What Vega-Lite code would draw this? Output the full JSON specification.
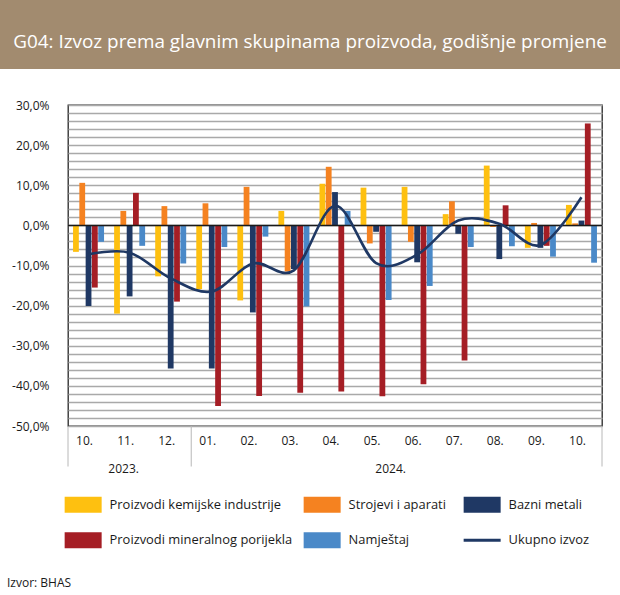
{
  "$schema": "https://vega.github.io/schema/vega-lite/v6.json",
  "background": "white",
  "padding": {"left": 0, "top": 0, "right": 0, "bottom": 6},
  "autosize": {"type": "pad"},
  "spacing": 29,
  "config": {"font": "Open Sans", "legend": {"labelFont": "Open Sans"}},
  "title": {"text": "Izvor: BHAS", "orient": "bottom", "anchor": "start", "fontSize": 12, "fontWeight": "normal", "color": "#1a1a1a", "offset": 29, "dx": 7},
  "datasets": {
    "bars": [
      {"m": "2023-10", "s": "Proizvodi kemijske industrije", "v": -6.6},
      {"m": "2023-10", "s": "Strojevi i aparati", "v": 10.6},
      {"m": "2023-10", "s": "Bazni metali", "v": -20.1},
      {"m": "2023-10", "s": "Proizvodi mineralnog porijekla", "v": -15.5},
      {"m": "2023-10", "s": "Namještaj", "v": -4.1},
      {"m": "2023-11", "s": "Proizvodi kemijske industrije", "v": -22.0},
      {"m": "2023-11", "s": "Strojevi i aparati", "v": 3.6},
      {"m": "2023-11", "s": "Bazni metali", "v": -17.7},
      {"m": "2023-11", "s": "Proizvodi mineralnog porijekla", "v": 8.1},
      {"m": "2023-11", "s": "Namještaj", "v": -5.1},
      {"m": "2023-12", "s": "Proizvodi kemijske industrije", "v": -12.7},
      {"m": "2023-12", "s": "Strojevi i aparati", "v": 4.8},
      {"m": "2023-12", "s": "Bazni metali", "v": -35.7},
      {"m": "2023-12", "s": "Proizvodi mineralnog porijekla", "v": -19.0},
      {"m": "2023-12", "s": "Namještaj", "v": -9.5},
      {"m": "2024-01", "s": "Proizvodi kemijske industrije", "v": -15.9},
      {"m": "2024-01", "s": "Strojevi i aparati", "v": 5.5},
      {"m": "2024-01", "s": "Bazni metali", "v": -35.7},
      {"m": "2024-01", "s": "Proizvodi mineralnog porijekla", "v": -45.0},
      {"m": "2024-01", "s": "Namještaj", "v": -5.4},
      {"m": "2024-02", "s": "Proizvodi kemijske industrije", "v": -18.7},
      {"m": "2024-02", "s": "Strojevi i aparati", "v": 9.6},
      {"m": "2024-02", "s": "Bazni metali", "v": -21.7},
      {"m": "2024-02", "s": "Proizvodi mineralnog porijekla", "v": -42.5},
      {"m": "2024-02", "s": "Namještaj", "v": -2.8},
      {"m": "2024-03", "s": "Proizvodi kemijske industrije", "v": 3.6},
      {"m": "2024-03", "s": "Strojevi i aparati", "v": -11.5},
      {"m": "2024-03", "s": "Bazni metali", "v": -10.9},
      {"m": "2024-03", "s": "Proizvodi mineralnog porijekla", "v": -41.7},
      {"m": "2024-03", "s": "Namještaj", "v": -20.2},
      {"m": "2024-04", "s": "Proizvodi kemijske industrije", "v": 10.4},
      {"m": "2024-04", "s": "Strojevi i aparati", "v": 14.6},
      {"m": "2024-04", "s": "Bazni metali", "v": 8.3},
      {"m": "2024-04", "s": "Proizvodi mineralnog porijekla", "v": -41.4},
      {"m": "2024-04", "s": "Namještaj", "v": 3.6},
      {"m": "2024-05", "s": "Proizvodi kemijske industrije", "v": 9.4},
      {"m": "2024-05", "s": "Strojevi i aparati", "v": -4.5},
      {"m": "2024-05", "s": "Bazni metali", "v": -1.6},
      {"m": "2024-05", "s": "Proizvodi mineralnog porijekla", "v": -42.6},
      {"m": "2024-05", "s": "Namještaj", "v": -18.6},
      {"m": "2024-06", "s": "Proizvodi kemijske industrije", "v": 9.6},
      {"m": "2024-06", "s": "Strojevi i aparati", "v": -4.1},
      {"m": "2024-06", "s": "Bazni metali", "v": -9.2},
      {"m": "2024-06", "s": "Proizvodi mineralnog porijekla", "v": -39.6},
      {"m": "2024-06", "s": "Namještaj", "v": -15.1},
      {"m": "2024-07", "s": "Proizvodi kemijske industrije", "v": 2.8},
      {"m": "2024-07", "s": "Strojevi i aparati", "v": 6.0},
      {"m": "2024-07", "s": "Bazni metali", "v": -2.1},
      {"m": "2024-07", "s": "Proizvodi mineralnog porijekla", "v": -33.7},
      {"m": "2024-07", "s": "Namještaj", "v": -5.4},
      {"m": "2024-08", "s": "Proizvodi kemijske industrije", "v": 14.9},
      {"m": "2024-08", "s": "Strojevi i aparati", "v": -0.4},
      {"m": "2024-08", "s": "Bazni metali", "v": -8.4},
      {"m": "2024-08", "s": "Proizvodi mineralnog porijekla", "v": 5.0},
      {"m": "2024-08", "s": "Namještaj", "v": -5.2},
      {"m": "2024-09", "s": "Proizvodi kemijske industrije", "v": -5.6},
      {"m": "2024-09", "s": "Strojevi i aparati", "v": 0.6},
      {"m": "2024-09", "s": "Bazni metali", "v": -5.6},
      {"m": "2024-09", "s": "Proizvodi mineralnog porijekla", "v": -5.1},
      {"m": "2024-09", "s": "Namještaj", "v": -7.8},
      {"m": "2024-10", "s": "Proizvodi kemijske industrije", "v": 5.1},
      {"m": "2024-10", "s": "Strojevi i aparati", "v": 0.5},
      {"m": "2024-10", "s": "Bazni metali", "v": 1.2},
      {"m": "2024-10", "s": "Proizvodi mineralnog porijekla", "v": 25.4},
      {"m": "2024-10", "s": "Namještaj", "v": -9.3}
    ],
    "total": [
      {"m": "2023-10", "s": "Ukupno izvoz", "v": -7.2},
      {"m": "2023-11", "s": "Ukupno izvoz", "v": -6.8},
      {"m": "2023-12", "s": "Ukupno izvoz", "v": -13.2},
      {"m": "2024-01", "s": "Ukupno izvoz", "v": -16.5},
      {"m": "2024-02", "s": "Ukupno izvoz", "v": -9.5},
      {"m": "2024-03", "s": "Ukupno izvoz", "v": -11.2},
      {"m": "2024-04", "s": "Ukupno izvoz", "v": 4.9},
      {"m": "2024-05", "s": "Ukupno izvoz", "v": -9.4},
      {"m": "2024-06", "s": "Ukupno izvoz", "v": -7.3},
      {"m": "2024-07", "s": "Ukupno izvoz", "v": 1.2},
      {"m": "2024-08", "s": "Ukupno izvoz", "v": 0.4},
      {"m": "2024-09", "s": "Ukupno izvoz", "v": -4.9},
      {"m": "2024-10", "s": "Ukupno izvoz", "v": 7.0}
    ]
  },
  "vconcat": [
    {
      "width": 620,
      "height": 69,
      "view": {"fill": "#A28B6F", "stroke": null},
      "data": {"values": [{"title": "G04: Izvoz prema glavnim skupinama proizvoda, godišnje promjene"}]},
      "mark": {"type": "text", "color": "white", "fontSize": 18.9, "dy": 7, "align": "center", "baseline": "middle", "font": "Open Sans"},
      "encoding": {"text": {"field": "title", "type": "nominal"}}
    },
    {
      "spacing": 0,
      "hconcat": [
        {
          "width": 1,
          "height": 1,
          "view": {"stroke": null},
          "data": {"values": []},
          "mark": {"type": "point", "opacity": 0},
          "encoding": {}
        },
        {
          "width": 534,
          "height": 321,
          "view": {"stroke": "#262626", "strokeWidth": 1.3},
          "layer": [
            {
              "data": {"name": "bars"},
              "mark": {"type": "bar"},
              "encoding": {
                "x": {
                  "field": "m", "type": "nominal",
                  "scale": {"paddingInner": 0, "paddingOuter": 0},
                  "axis": {"title": null, "labelExpr": "substring(datum.value, 5) + '.'", "labelAngle": 0, "ticks": false, "domain": false, "labelPadding": 9, "labelOffset": -4, "labelFontSize": 12, "labelColor": "#1a1a1a", "grid": false}
                },
                "xOffset": {
                  "field": "s", "type": "nominal",
                  "scale": {"domain": ["Proizvodi kemijske industrije", "Strojevi i aparati", "Bazni metali", "Proizvodi mineralnog porijekla", "Namještaj"], "paddingInner": 0.08, "paddingOuter": 0.8}
                },
                "y": {
                  "field": "v", "type": "quantitative",
                  "scale": {"domain": [-50, 30], "nice": false, "zero": false},
                  "axis": {
                    "title": null,
                    "values": [-50, -48, -46, -44, -42, -40, -38, -36, -34, -32, -30, -28, -26, -24, -22, -20, -18, -16, -14, -12, -10, -8, -6, -4, -2, 0, 2, 4, 6, 8, 10, 12, 14, 16, 18, 20, 22, 24, 26, 28, 30],
                    "tickCount": 100,
                    "labelExpr": "datum.value % 10 === 0 ? (datum.value < 0 ? '-' : '') + replace(format(abs(datum.value), '.1f'), '.', ',') + '%' : ''",
                    "labelOverlap": false,
                    "grid": true, "gridColor": "#a9a9a9", "gridWidth": 1.3,
                    "domain": false, "ticks": false,
                    "labelPadding": 19, "minExtent": 66, "maxExtent": 66,
                    "labelFontSize": 12, "labelColor": "#1a1a1a"
                  }
                },
                "color": {
                  "field": "s", "type": "nominal",
                  "scale": {
                    "domain": ["Proizvodi kemijske industrije", "Strojevi i aparati", "Bazni metali", "Proizvodi mineralnog porijekla", "Namještaj", "Ukupno izvoz"],
                    "range": ["#FEC010", "#F58220", "#1F3864", "#A51E25", "#4A89C8", "#1F3864"]
                  },
                  "legend": {
                    "title": null,
                    "orient": "none",
                    "legendX": 76.7,
                    "legendY": 498,
                    "direction": "horizontal",
                    "columns": 3,
                    "columnPadding": 10,
                    "rowPadding": 18.7,
                    "padding": 0,
                    "symbolSize": 1369,
                    "symbolStrokeWidth": 0,
                    "labelOffset": 20,
                    "labelFontSize": 12.9,
                    "labelColor": "#1a1a1a",
                    "labelLimit": 400,
                    "encode": {
                      "symbols": {
                        "update": {
                          "shape": {"signal": "datum.value === 'Ukupno izvoz' ? 'M-1,0H1' : 'M-1,-0.432H1V0.432H-1Z'"},
                          "size": {"value": 1369},
                          "fill": {"signal": "datum.value === 'Ukupno izvoz' ? 'transparent' : datum.value === 'Proizvodi kemijske industrije' ? '#FEC010' : datum.value === 'Strojevi i aparati' ? '#F58220' : datum.value === 'Bazni metali' ? '#1F3864' : datum.value === 'Proizvodi mineralnog porijekla' ? '#A51E25' : '#4A89C8'"},
                          "stroke": {"signal": "datum.value === 'Ukupno izvoz' ? '#1F3864' : 'transparent'"},
                          "strokeWidth": {"signal": "datum.value === 'Ukupno izvoz' ? 3 : 0"},
                          "opacity": {"value": 1}
                        }
                      }
                    }
                  }
                }
              }
            },
            {
              "data": {"values": [{}]},
              "mark": {"type": "rule", "color": "#1a1a1a", "strokeWidth": 1.5},
              "encoding": {"y": {"datum": 0}}
            },
            {
              "data": {"name": "total"},
              "mark": {"type": "line", "interpolate": "cardinal", "strokeWidth": 2.6},
              "encoding": {
                "x": {"field": "m", "type": "nominal"},
                "y": {"field": "v", "type": "quantitative"},
                "color": {"field": "s", "type": "nominal"}
              }
            },
            {
              "data": {"values": [{"m": "2023-10"}, {"m": "2024-01"}]},
              "mark": {"type": "rule", "color": "#b8b8b8", "strokeWidth": 1},
              "encoding": {
                "x": {"field": "m", "type": "nominal", "bandPosition": 0},
                "y": {"datum": -50},
                "y2": {"datum": -60.1}
              }
            },
            {
              "data": {"values": [{"m": "2024-10"}]},
              "mark": {"type": "rule", "color": "#b8b8b8", "strokeWidth": 1},
              "encoding": {
                "x": {"field": "m", "type": "nominal", "bandPosition": 1},
                "y": {"datum": -50},
                "y2": {"datum": -60.1}
              }
            },
            {
              "data": {"values": [{"m": "2023-11", "t": "2023."}]},
              "mark": {"type": "text", "fontSize": 12, "color": "#1a1a1a", "dx": -6, "baseline": "middle"},
              "encoding": {
                "x": {"field": "m", "type": "nominal", "bandPosition": 0.5},
                "y": {"datum": -60.7},
                "text": {"field": "t", "type": "nominal"}
              }
            },
            {
              "data": {"values": [{"m": "2024-05", "t": "2024."}]},
              "mark": {"type": "text", "fontSize": 12, "color": "#1a1a1a", "dx": -6, "baseline": "middle"},
              "encoding": {
                "x": {"field": "m", "type": "nominal", "bandPosition": 1},
                "y": {"datum": -60.7},
                "text": {"field": "t", "type": "nominal"}
              }
            }
          ]
        }
      ]
    }
  ]
}
